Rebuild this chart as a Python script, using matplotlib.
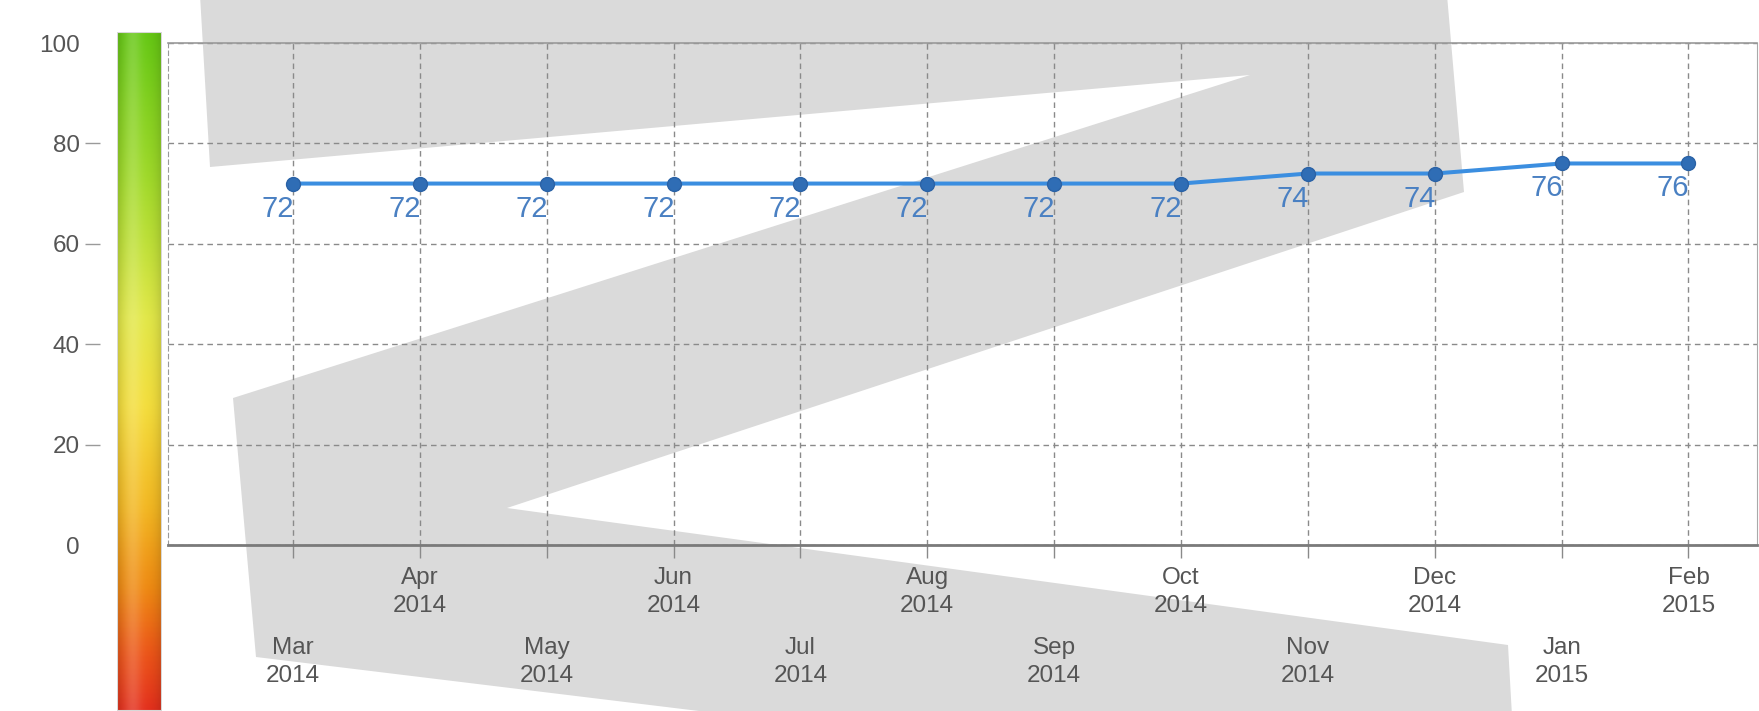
import numpy as np
import matplotlib
matplotlib.use("Agg")
import matplotlib.pyplot as plt
from matplotlib.patches import Polygon, Rectangle
from matplotlib.colors import LinearSegmentedColormap, to_rgb

# data
months = ["Mar", "Apr", "May", "Jun", "Jul", "Aug", "Sep", "Oct", "Nov", "Dec", "Jan", "Feb"]
years = ["2014"] * 10 + ["2015"] * 2
scores = [72, 72, 72, 72, 72, 72, 72, 72, 74, 74, 76, 76]
y_ticks = [0, 20, 40, 60, 80, 100]

W, H = 1759, 711
plt.rcParams['font.family'] = ['Liberation Sans', 'DejaVu Sans']
fig = plt.figure(figsize=(W / 100, H / 100), dpi=100)


def fx(px):
    return px / W


def fy(py):
    return 1 - py / H


# grey "Z" watermark behind the chart (pixel outline of the background logo)
z_outline = [(200, -5), (1447, -5), (1464, 192), (507, 508), (1508, 645),
             (1512, 716), (740, 716), (256, 657), (233, 398), (1250, 75), (210, 167)]
wm = Polygon([(fx(a), fy(b)) for a, b in z_outline], closed=True,
             transform=fig.transFigure, facecolor='#dadada', edgecolor='none', zorder=-5)
fig.patches.append(wm)

# main axes
ax = fig.add_axes([fx(168), fy(545), fx(1757) - fx(168), fy(43) - fy(545)])
ax.patch.set_alpha(0)
x = np.arange(len(scores))
ax.plot(x, scores, color='#3b8ee0', lw=2.9, marker='o', ms=10,
        mfc='#2f6db5', mec='#2a62a6', mew=1, zorder=3)
for xi, v in zip(x, scores):
    ax.annotate(str(v), (xi, v), xytext=(-11, -18), textcoords='offset points',
                ha='center', va='center', fontsize=21, color='#4a80c2', zorder=4)

ax.set_xlim(-0.985, 11.54)
ax.set_ylim(0, 100)
ax.set_xticks(x)
ax.set_xticklabels([m + "\n" + y for m, y in zip(months, years)])
ax.tick_params(axis='x', length=9, width=1, color='#8a8a8a',
               labelsize=17.5, labelcolor='#555555')
for i, t in enumerate(ax.xaxis.get_major_ticks()):
    t.set_pad(57 if i % 2 == 0 else 7)
for lbl in ax.get_xticklabels():
    lbl.set_linespacing(1.35)

ax.set_yticks(y_ticks)
ax.tick_params(axis='y', length=0, labelleft=False)
ax.grid(True, color='#8a8a8a', ls=(0, (4, 3)), lw=1.0, zorder=1)
ax.set_axisbelow(True)

ax.spines['top'].set_color('#9a9a9a')
ax.spines['top'].set_linewidth(1.2)
ax.spines['bottom'].set_color('#7a7a7a')
ax.spines['bottom'].set_linewidth(2)
ax.spines['left'].set_color('#9a9a9a')
ax.spines['left'].set_linestyle((0, (4, 3)))
ax.spines['right'].set_color('#aaaaaa')

# y labels sit further left, beyond the gradient bar
lab = fig.add_axes([fx(100), fy(545), 0.0005, fy(43) - fy(545)])
lab.set_ylim(0, 100)
lab.set_yticks(y_ticks)
lab.set_xticks([])
lab.tick_params(axis='y', length=10.8, width=1, color='#9a9a9a', pad=3.6,
                labelsize=17.5, labelcolor='#555555')
for s in lab.spines.values():
    s.set_visible(False)
lab.patch.set_visible(False)
yt = lab.yaxis.get_major_ticks()
yt[0].tick1line.set_visible(False)
yt[-1].tick1line.set_visible(False)

# gradient score bar
cb = fig.add_axes([fx(117), 0, fx(162) - fx(117), fy(32)])
stops = [(0.0, '#66c814'), (0.22, '#a2da2a'), (0.42, '#e2e848'), (0.55, '#f4de3c'),
         (0.7, '#f3b822'), (0.82, '#ef8a12'), (0.92, '#ec5418'), (1.0, '#e4301c')]
cmap = LinearSegmentedColormap.from_list('bar', [(p, to_rgb(c)) for p, c in stops])
rows = cmap(np.linspace(0, 1, 400))[:, :3]
cols = np.linspace(0, 1, 45)
shade = 1 - 0.14 * (np.abs(cols - 0.5) * 2) ** 3
glow = 0.16 * np.exp(-((cols - 0.35) / 0.2) ** 2)
img = rows[:, None, :] * shade[None, :, None]
img = img * (1 - glow[None, :, None]) + glow[None, :, None]
cb.imshow(np.clip(img, 0, 1), aspect='auto', extent=[0, 1, 0, 1], interpolation='bilinear')
cb.add_patch(Rectangle((0, 0), 1, 1, transform=cb.transAxes, fill=False,
                       edgecolor='#d8d8d8', lw=1.5))
cb.set_axis_off()

fig.savefig('out.png', dpi=100)
